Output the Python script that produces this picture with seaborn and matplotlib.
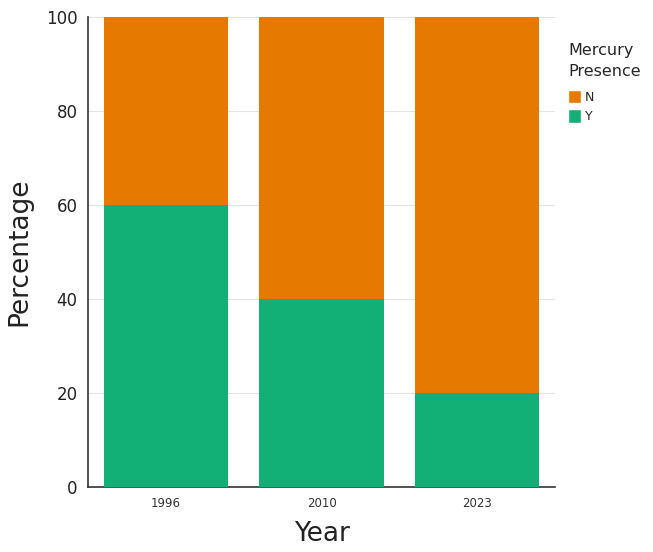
import pandas as pd
import matplotlib.pyplot as plt
import seaborn as sns
from matplotlib.patches import Patch

# data
years = ['1996', '2010', '2023']
pct_y = [60, 40, 20]
pct_n = [40, 60, 80]

color_n = '#E67A00'
color_y = '#12B076'

sns.set_style('white')
plt.rcParams['font.family'] = ['DejaVu Sans']

df = pd.DataFrame({'Year': years, 'Y': pct_y, 'N': pct_n})
df['Total'] = df['Y'] + df['N']

fig = plt.figure(figsize=(6.53, 5.52), dpi=100)
ax = fig.add_axes([0.135, 0.118, 0.715, 0.851])

# stacked bars: total first (N on top), then Y from the bottom
sns.barplot(data=df, x='Year', y='Total', color=color_n, width=0.8,
            saturation=1, linewidth=0, ax=ax, zorder=2)
sns.barplot(data=df, x='Year', y='Y', color=color_y, width=0.8,
            saturation=1, linewidth=0, ax=ax, zorder=3)

ax.set_xlim(-0.5, 2.5)
ax.set_ylim(0, 100)
ax.set_yticks([0, 20, 40, 60, 80, 100])
ax.yaxis.grid(True, color='#e3e3e3', linewidth=0.8, zorder=0)
ax.set_axisbelow(True)

for side in ['top', 'right']:
    ax.spines[side].set_visible(False)
for side in ['left', 'bottom']:
    ax.spines[side].set_color('#333333')
    ax.spines[side].set_linewidth(1.2)

ax.tick_params(axis='y', labelsize=12, length=4, color='#333333', labelcolor='#222222')
ax.tick_params(axis='x', labelsize=8.5, length=4, color='#333333', labelcolor='#333333')

ax.set_xlabel('Year', fontsize=19, color='#222222', labelpad=8)
ax.set_ylabel('Percentage', fontsize=19, color='#222222', labelpad=10)

handles = [Patch(facecolor=color_n, label='N'), Patch(facecolor=color_y, label='Y')]
leg = fig.legend(handles=handles, title='Mercury\nPresence', loc='upper left',
                 bbox_to_anchor=(0.853, 0.942), frameon=False, fontsize=9,
                 title_fontsize=11.5, handlelength=1.0, handleheight=1.3,
                 handletextpad=0.3, labelspacing=0.45)
leg._legend_box.align = 'left'
leg._legend_box.sep = 8
leg.get_title().set_linespacing(1.45)

plt.savefig('out.png', dpi=100)
plt.close()
